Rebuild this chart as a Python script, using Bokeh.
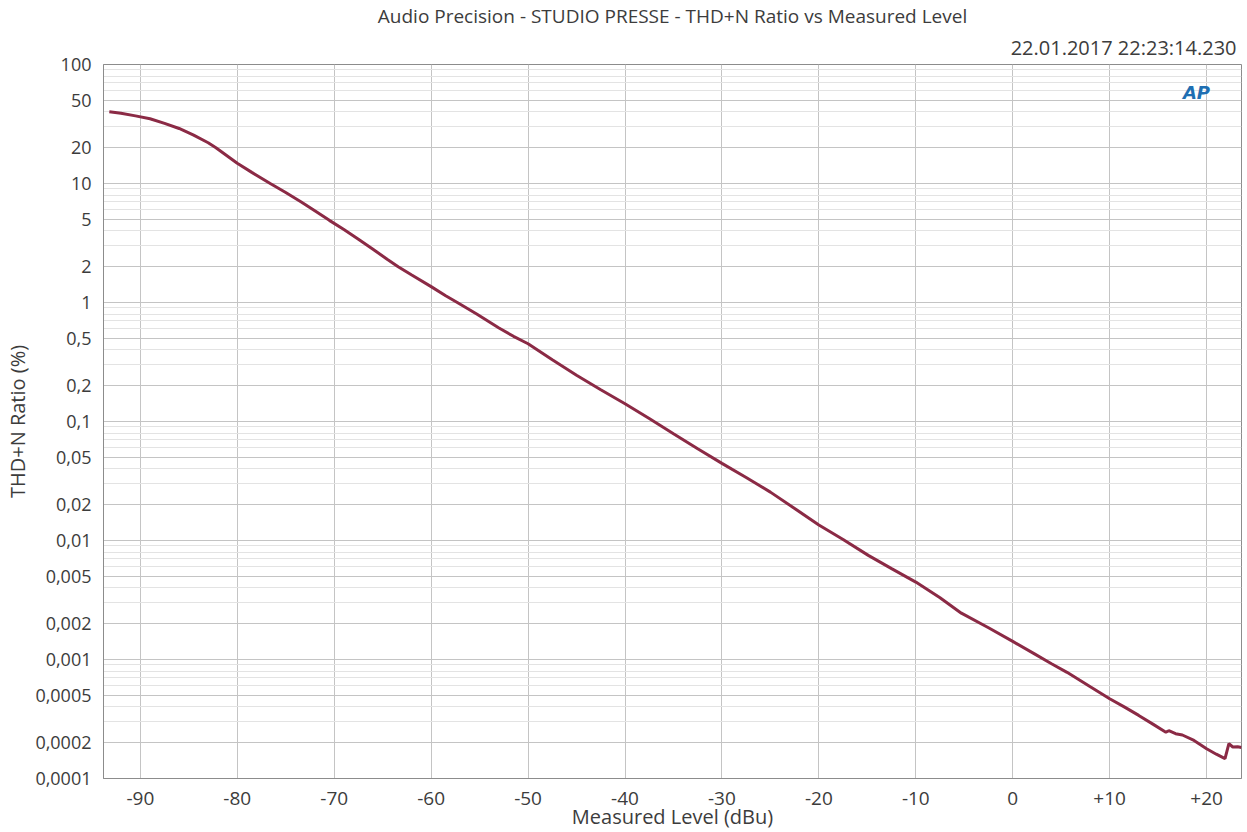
from bokeh.plotting import figure
from bokeh.models import FixedTicker, CustomJSTickFormatter, Label, Title
from bokeh.embed import file_html
from bokeh.resources import INLINE

# ---- data (Measured Level in dBu, THD+N in %) ----
level_dbu = [-93.2, -92.0, -90.5, -89.0, -87.5, -86.0, -84.5, -83.0, -82.2, -80.0,
             -78.5, -76.6, -75.0, -73.4, -72.0, -70.5, -69.0, -67.5, -66.0, -64.5,
             -63.4, -62.0, -60.0, -58.5, -57.3, -55.3, -53.0, -51.5, -50.0, -47.5,
             -45.0, -42.5, -40.0, -37.5, -35.0, -32.5, -30.0, -27.5, -25.0, -22.5,
             -20.0, -17.5, -14.9, -12.5, -10.0, -7.5, -5.3, -2.5, 0.0, 2.2,
             4.0, 5.6, 8.0, 10.0, 11.5, 13.0, 14.5, 15.8, 16.1, 16.8,
             17.5, 18.7, 20.0, 21.0, 21.9, 22.3, 22.7, 23.2, 23.6]
thdn_pct = [40.0, 39.0, 37.0, 35.0, 32.0, 29.0, 25.5, 22.0, 20.0, 14.8,
            12.4, 10.0, 8.4, 7.0, 5.9, 4.9, 4.1, 3.4, 2.8, 2.3,
            2.0, 1.7, 1.36, 1.14, 1.0, 0.80, 0.61, 0.52, 0.45, 0.33,
            0.245, 0.185, 0.141, 0.106, 0.079, 0.059, 0.0445, 0.0338, 0.0255, 0.0186,
            0.0135, 0.0102, 0.0075, 0.0058, 0.00447, 0.0033, 0.00245, 0.00185, 0.00142, 0.00112,
            0.00092, 0.00078, 0.00059, 0.000468, 0.000400, 0.000339, 0.000285, 0.000245, 0.000252, 0.000238,
            0.000232, 0.000209, 0.000178, 0.000160, 0.000147, 0.000196, 0.000184, 0.000185, 0.000182]

x_ticks = [-90, -80, -70, -60, -50, -40, -30, -20, -10, 0, 10, 20]
y_ticks = [0.0001, 0.0002, 0.0005, 0.001, 0.002, 0.005, 0.01, 0.02, 0.05,
           0.1, 0.2, 0.5, 1, 2, 5, 10, 20, 50, 100]
y_minor = [m * 10.0 ** e for e in range(-4, 2) for m in (3, 4, 6, 7, 8, 9)]

title_text = "Audio Precision - STUDIO PRESSE - THD+N Ratio vs Measured Level"
stamp_text = "22.01.2017 22:23:14.230"
x_label = "Measured Level (dBu)"
y_label = "THD+N Ratio (%)"

FONT = "Open Sans"
TXT = "#3c3c3c"

p = figure(width=1247, height=832, y_axis_type="log",
           x_range=(-93.8, 23.6), y_range=(0.0001, 100),
           output_backend="svg", toolbar_location=None,
           min_border_left=103, min_border_right=6,
           min_border_top=64, min_border_bottom=54)
p.background_fill_color = "white"
p.border_fill_color = "white"
p.outline_line_color = "#8c8c8c"
p.outline_line_width = 1
p.title.visible = False

# timestamp (closest to the frame), then main title above it
p.add_layout(Title(text=stamp_text, align="right", offset=5, text_font=FONT,
                   text_font_size="20px", text_font_style="normal", text_color=TXT,
                   standoff=7), "above")
p.add_layout(Title(text=title_text, align="center", text_font=FONT,
                   text_font_size="19px", text_font_style="normal", text_color=TXT,
                   standoff=0), "above")

p.xaxis.ticker = FixedTicker(ticks=x_ticks)
p.yaxis.ticker = FixedTicker(ticks=y_ticks, minor_ticks=y_minor)
p.xaxis.formatter = CustomJSTickFormatter(code="return tick > 0 ? '+' + tick : tick.toString();")
p.yaxis.formatter = CustomJSTickFormatter(
    code="return parseFloat(tick.toPrecision(3)).toString().replace('.', ',');")

for ax in (p.xaxis, p.yaxis):
    ax.major_tick_line_color = None
    ax.minor_tick_line_color = None
    ax.axis_line_color = "#8c8c8c"
    ax.major_label_text_font = FONT
    ax.major_label_text_color = TXT
    ax.axis_label_text_font = FONT
    ax.axis_label_text_color = TXT
    ax.axis_label_text_font_style = "normal"

p.xaxis.major_label_text_font_size = "19px"
p.yaxis.major_label_text_font_size = "18px"
p.xaxis.major_label_standoff = 7
p.yaxis.major_label_standoff = 6
p.xaxis.axis_label = x_label
p.yaxis.axis_label = y_label
p.xaxis.axis_label_text_font_size = "20px"
p.yaxis.axis_label_text_font_size = "20px"
p.xaxis.axis_label_standoff = -5
p.yaxis.axis_label_standoff = 1

p.xgrid.grid_line_color = "#c4c4c4"
p.ygrid.grid_line_color = "#c4c4c4"
p.ygrid.minor_grid_line_color = "#e3e3e3"

p.line(level_dbu, thdn_pct, line_color="#8b2a45", line_width=3)

p.add_layout(Label(x=1093, y=686, x_units="screen", y_units="screen", text="AP",
                   text_align="center", text_baseline="middle", text_font="DejaVu Sans",
                   text_font_size="18px", text_font_style="bold italic", text_color="#1f6fb2"))

open("out.html", "w").write(file_html(p, INLINE))
